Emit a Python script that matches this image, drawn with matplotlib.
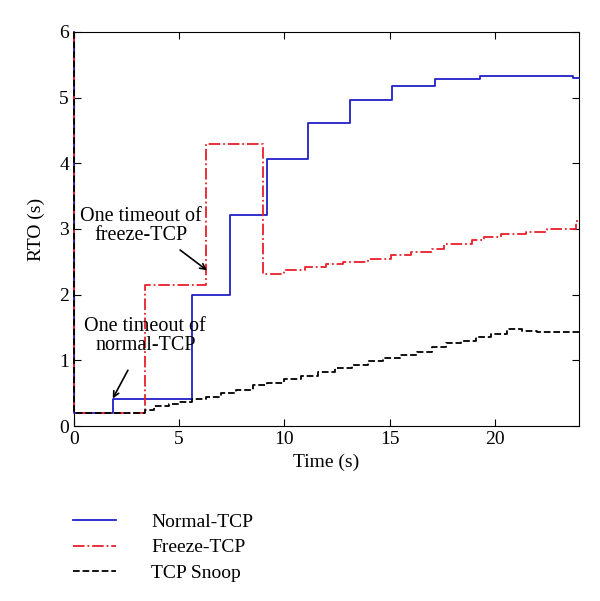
import matplotlib.pyplot as plt

plt.rcParams['font.family'] = ['Liberation Serif', 'DejaVu Serif']

# Normal-TCP (step: value holds from t until next t)
normal_t = [0, 0.03, 1.86, 5.6, 7.43, 9.2, 11.13, 13.1, 15.1, 17.14, 19.3, 23.7, 24]
normal_rto = [6, 0.2, 0.41, 2.0, 3.22, 4.07, 4.61, 4.96, 5.17, 5.28, 5.33, 5.30, 5.30]

# Freeze-TCP
freeze_t = [0, 0.03, 3.38, 6.3, 8.98, 9.97, 11.0, 12.0, 12.8, 14.0, 15.05, 16.0, 17.0,
            17.6, 18.9, 19.5, 20.3, 21.5, 22.5, 23.86, 24]
freeze_rto = [6, 0.2, 2.15, 4.3, 2.31, 2.37, 2.42, 2.46, 2.50, 2.55, 2.60, 2.65, 2.70,
              2.77, 2.83, 2.88, 2.92, 2.96, 3.00, 3.12, 3.12]

# TCP Snoop
snoop_t = [0, 0.03, 3.4, 3.8, 4.5, 5.0, 5.6, 6.3, 7.0, 7.7, 8.5, 9.2, 10.0, 10.8, 11.6,
           12.4, 13.2, 14.0, 14.7, 15.5, 16.3, 17.0, 17.7, 18.4, 19.1, 19.8, 20.6,
           21.3, 22.0, 24]
snoop_rto = [6, 0.2, 0.25, 0.3, 0.33, 0.37, 0.41, 0.45, 0.5, 0.55, 0.62, 0.66, 0.72, 0.77,
             0.82, 0.88, 0.93, 0.99, 1.03, 1.08, 1.13, 1.2, 1.26, 1.3, 1.35, 1.40, 1.48,
             1.45, 1.43, 1.43]

fig = plt.figure(figsize=(6, 6.01), dpi=100)
ax = fig.add_axes([0.123, 0.291, 0.842, 0.656])

ax.step(normal_t, normal_rto, where='post', color='#2020c8', lw=1.3, label='Normal-TCP',
        clip_on=False, zorder=3)
ax.step(freeze_t, freeze_rto, where='post', color='#e8202a', lw=1.3, ls='-.', label='Freeze-TCP',
        clip_on=False, zorder=3)
ax.step(snoop_t, snoop_rto, where='post', color='black', lw=1.3, ls='--', label='TCP Snoop',
        clip_on=False, zorder=3)

ax.set_xlim(0, 24)
ax.set_ylim(0, 6)
ax.set_xticks([0, 5, 10, 15, 20])
ax.set_yticks([0, 1, 2, 3, 4, 5, 6])
ax.tick_params(direction='in', top=True, right=True, labelsize=14, length=5)
ax.set_xlabel('Time (s)', fontsize=14, labelpad=4)
ax.set_ylabel('RTO (s)', fontsize=14, labelpad=10)

# annotations
ax.text(3.4, 1.37, 'One timeout of\nnormal-TCP', ha='center', va='center', fontsize=14.5,
        linespacing=1.0)
ax.annotate('', xy=(1.85, 0.42), xytext=(2.57, 0.85),
            arrowprops=dict(arrowstyle='->', color='black', lw=1.2, shrinkA=0, shrinkB=0))
ax.text(3.2, 3.04, 'One timeout of\nfreeze-TCP', ha='center', va='center', fontsize=14.5,
        linespacing=1.0)
ax.annotate('', xy=(6.33, 2.37), xytext=(5.05, 2.68),
            arrowprops=dict(arrowstyle='->', color='black', lw=1.2, shrinkA=0, shrinkB=0))

fig.legend(loc='upper left', bbox_to_anchor=(0.093, 0.175), frameon=False,
           fontsize=14, handlelength=2.2, handletextpad=1.8, labelspacing=0.4)

fig.savefig('out.png')
